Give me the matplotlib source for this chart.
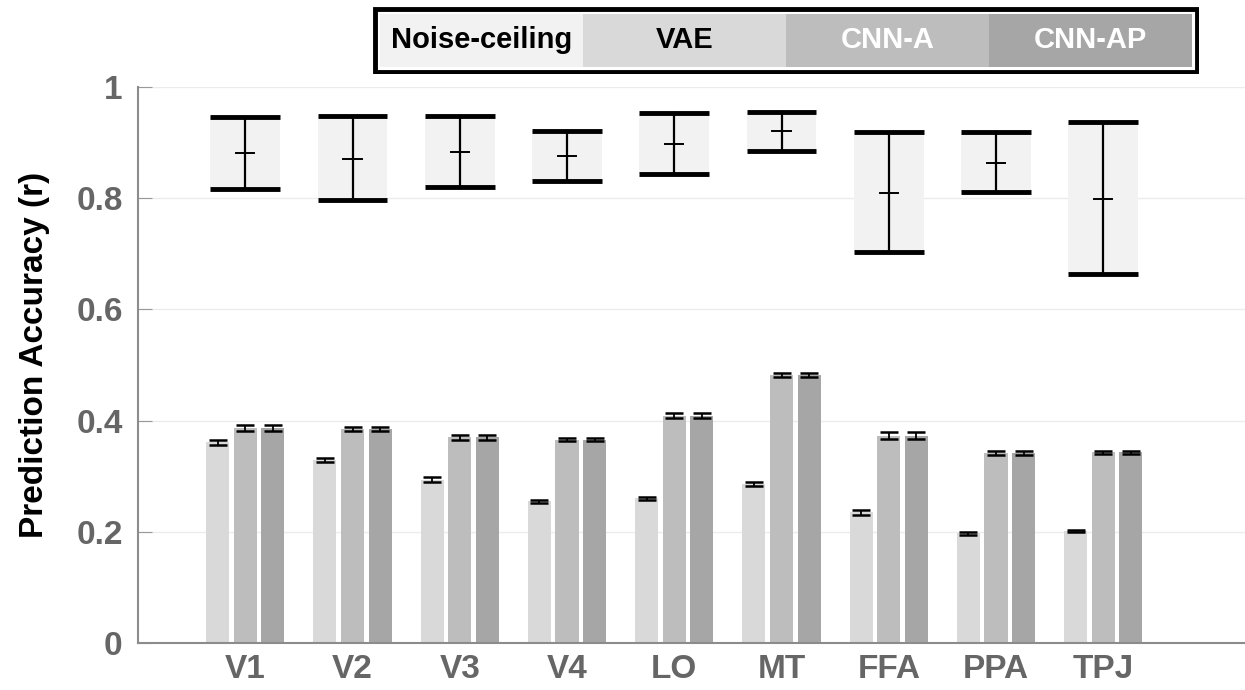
import matplotlib
matplotlib.use("Agg")
import matplotlib.pyplot as plt
from matplotlib.patches import Rectangle
import numpy as np

regions = ["V1", "V2", "V3", "V4", "LO", "MT", "FFA", "PPA", "TPJ"]
series = ["Noise-ceiling", "VAE", "CNN-A", "CNN-AP"]
colors = ["#f2f2f2", "#d9d9d9", "#bdbdbd", "#a6a6a6"]
legend_text_colors = ["black", "black", "white", "white"]

nc_mean = [0.881, 0.871, 0.883, 0.876, 0.898, 0.920, 0.810, 0.864, 0.799]
nc_low = [0.817, 0.797, 0.820, 0.831, 0.844, 0.885, 0.704, 0.811, 0.664]
nc_high = [0.946, 0.948, 0.948, 0.921, 0.953, 0.955, 0.919, 0.919, 0.937]

vae = [0.361, 0.329, 0.294, 0.255, 0.260, 0.286, 0.235, 0.197, 0.202]
vae_err = [0.004, 0.004, 0.004, 0.003, 0.003, 0.003, 0.005, 0.003, 0.002]
cnn_a = [0.387, 0.385, 0.370, 0.366, 0.409, 0.482, 0.373, 0.342, 0.343]
cnn_a_err = [0.005, 0.004, 0.004, 0.003, 0.004, 0.003, 0.006, 0.003, 0.003]
cnn_ap = [0.387, 0.385, 0.370, 0.366, 0.409, 0.482, 0.373, 0.342, 0.343]
cnn_ap_err = [0.005, 0.004, 0.004, 0.003, 0.004, 0.003, 0.006, 0.003, 0.003]

W, H = 1245, 690
fig = plt.figure(figsize=(W / 100, H / 100), dpi=100)
ax = fig.add_axes([138 / W, 1 - 643 / H, 1 - 138 / W, (643 - 87) / H])

x = np.arange(1, len(regions) + 1)
box_w = 0.652
bar_w = 0.215
off = 0.257

ax.set_axisbelow(True)
ax.yaxis.grid(True, color="#ececec", lw=1)

# noise ceiling
for xi, m, lo, hi in zip(x, nc_mean, nc_low, nc_high):
    ax.add_patch(Rectangle((xi - box_w / 2, lo), box_w, hi - lo,
                           facecolor=colors[0], edgecolor="none", zorder=2))
    ax.plot([xi - box_w / 2, xi + box_w / 2], [hi, hi], color="black", lw=3.5, zorder=3,
            solid_capstyle="butt")
    ax.plot([xi - box_w / 2, xi + box_w / 2], [lo, lo], color="black", lw=3.5, zorder=3,
            solid_capstyle="butt")
    ax.plot([xi, xi], [lo, hi], color="black", lw=1.6, zorder=3)
    ax.plot([xi - 0.085, xi + 0.085], [m, m], color="black", lw=1.4, zorder=3)

for k, (vals, errs) in enumerate([(vae, vae_err), (cnn_a, cnn_a_err), (cnn_ap, cnn_ap_err)]):
    pos = x + (k - 1) * off
    ax.bar(pos, vals, width=bar_w, color=colors[k + 1], edgecolor="none", zorder=2)
    ax.errorbar(pos, vals, yerr=errs, fmt="none", ecolor="black", elinewidth=1.3,
                capsize=6.5, capthick=1.8, zorder=3)

ax.set_xlim(0, (W - 138) / ((1103 - 245) / 8))
ax.set_ylim(0, 1)
ax.set_xticks(x)
ax.set_xticklabels(regions)
ax.set_yticks([0, 0.2, 0.4, 0.6, 0.8, 1.0])
ax.set_yticklabels(["0", "0.2", "0.4", "0.6", "0.8", "1"])
for lab in ax.get_xticklabels() + ax.get_yticklabels():
    lab.set_fontfamily("Liberation Sans")
    lab.set_fontweight("bold")
    lab.set_color("#666666")
for lab in ax.get_yticklabels():
    lab.set_fontsize(24)
for lab in ax.get_xticklabels():
    lab.set_fontsize(24)
ax.tick_params(axis="x", length=0, pad=8)
ax.tick_params(axis="y", direction="in", length=10, color="#999999", pad=11)
for s in ["top", "right"]:
    ax.spines[s].set_visible(False)
for s in ["left", "bottom"]:
    ax.spines[s].set_color("#8c8c8c")
    ax.spines[s].set_linewidth(1.5)

fig.text(35 / W, 1 - 355 / H, "Prediction Accuracy (r)", rotation=90, ha="center", va="center",
         fontsize=24, fontweight="bold", family="Liberation Sans", color="black")

# legend
lax = fig.add_axes([373 / W, 1 - 74 / H, (1199 - 373) / W, (74 - 7) / H])
lax.set_xlim(0, 1)
lax.set_ylim(0, 1)
lax.axis("off")
lax.add_patch(Rectangle((0.003, 0.03), 0.994, 0.94, facecolor="white", edgecolor="black",
                        lw=3.5, transform=lax.transAxes))
inner_l, inner_r = 7 / 826, 819 / 826
cw = (inner_r - inner_l) / len(series)
for i, (name, c, tc) in enumerate(zip(series, colors, legend_text_colors)):
    lax.add_patch(Rectangle((inner_l + i * cw, 0.11), cw, 0.78, facecolor=c, edgecolor="none"))
    lax.text(inner_l + (i + 0.5) * cw, 0.5, name, ha="center", va="center", fontsize=21,
             fontweight="bold", family="Liberation Sans", color=tc)

fig.savefig("out.png", dpi=100)
